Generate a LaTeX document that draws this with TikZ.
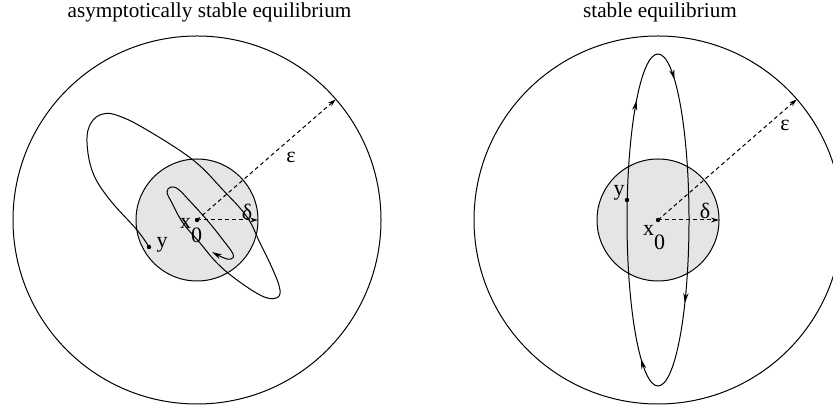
\documentclass[tikz,border=0pt]{standalone}
\usepackage{fontspec}
\setmainfont{Liberation Serif}
\usetikzlibrary{arrows.meta,decorations.markings}
\tikzset{
  radarrow/.style={dashed,dash pattern=on 2pt off 1.5pt,-{Stealth[length=4pt,width=2.4pt]}},
  traj/.style={-{Stealth[length=5pt,width=2.6pt]}},
  lbl/.style={font=\fontsize{11}{13}\selectfont,inner sep=0pt},
  ttl/.style={font=\fontsize{10.6}{13}\selectfont,anchor=base,inner sep=0pt}
}

\begin{document}
\begin{tikzpicture}[x=0.5pt,y=0.5pt,line width=0.5pt]
\useasboundingbox (0,0) rectangle (833,405);

% asymptotically stable
\begin{scope}[shift={(197,185)}]
\coordinate (x0L) at (0,0);
\node[ttl] (titleL) at (12.5,202) {asymptotically stable equilibrium};
\draw[fill=gray!20] (x0L) circle (61);
\draw (x0L) circle (184);
\coordinate (epsL) at (41:184);
\coordinate (delL) at (61,0);
\coordinate (yL) at (-48,-27);
\draw[radarrow] (x0L) -- (epsL);
\draw[radarrow] (x0L) -- (delL);
\draw[traj] plot[smooth,tension=0.65] coordinates {
  (-48,-27) (-60,-10) (-87,20) (-104,47) (-110,78) (-106,97) (-94,106)
  (-78,104) (-50,90) (-4,60) (26,30) (50,3) (63,-23) (76,-50) (83,-70)
  (79,-78) (65,-76) (40,-60) (20,-43) (3,-23) (-14,-3) (-25,17) (-30,28)
  (-26,33) (-19,31) (-10,22) (10,0) (26,-20) (36,-34) (34,-39) (27,-38)
  (15,-32)};
\foreach \p in {x0L,yL}
{
  \fill (\p) circle (2.2);
}
\node[lbl,anchor=base west] (x0labL) at (-17.5,-9) {x\raisebox{-7pt}{0}};
\node[lbl] (ylabL) at (-35,-25) {y};
\node[lbl] (delabL) at (50,8) {δ};
\node[lbl] (epslabL) at (94,63) {ε};
\end{scope}

% stable
\begin{scope}[shift={(658,185)}]
\coordinate (x0R) at (0,0);
\node[ttl] (titleR) at (2,202) {stable equilibrium};
\draw[fill=gray!20] (x0R) circle (61);
\draw (x0R) circle (184);
\coordinate (epsR) at (41:184);
\coordinate (delR) at (61,0);
\coordinate (yR) at (-31,20);
\draw[radarrow] (x0R) -- (epsR);
\draw[radarrow] (x0R) -- (delR);
\draw (x0R) ellipse [x radius=31, y radius=166];
\foreach \p in {0.204,0.327,0.702,0.880}
{
  \path[decorate,decoration={markings,mark=at position \p with
    {\arrowreversed{Stealth[length=5pt,width=2.6pt]}}}]
    (x0R) ellipse [x radius=31, y radius=166];
}
\foreach \p in {x0R,yR}
{
  \fill (\p) circle (2.2);
}
\node[lbl,anchor=base west] (x0labR) at (-15.5,-16) {x\raisebox{-7pt}{0}};
\node[lbl] (ylabR) at (-39,27) {y};
\node[lbl] (delabR) at (47,9) {δ};
\node[lbl] (epslabR) at (127,95) {ε};
\end{scope}

\end{tikzpicture}
\end{document}
